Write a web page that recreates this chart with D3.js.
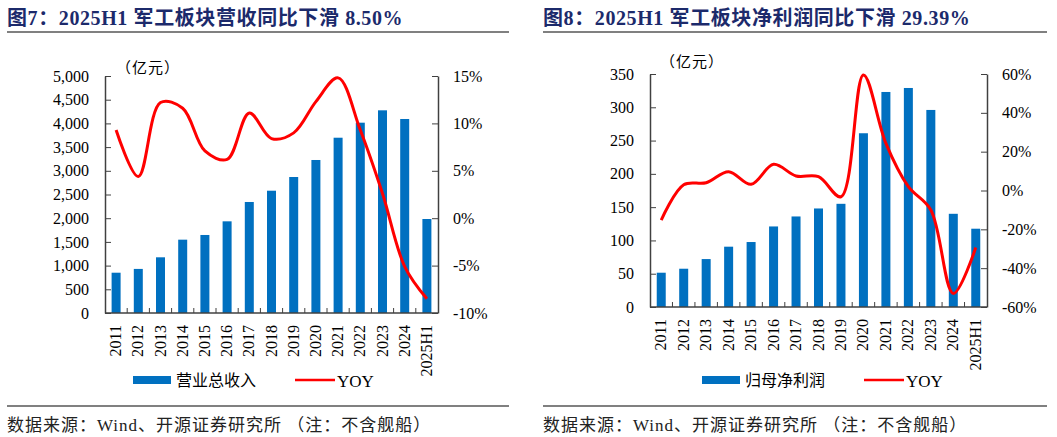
<!DOCTYPE html>
<html>
<head>
<meta charset="utf-8">
<script src="https://cdn.jsdelivr.net/npm/d3@7"></script>
<style>
  body { margin: 0; background: #fff; }
  svg { display: block; }
  text { font-family: "Liberation Serif", "Noto Sans CJK SC", serif; }
</style>
</head>
<body>
<script>
  var width = 1057;
  var height = 437;

  // data
  var years = ['2011','2012','2013','2014','2015','2016','2017','2018','2019','2020','2021','2022','2023','2024','2025H1'];
  var revenue = [850, 930, 1175, 1547, 1646, 1934, 2342, 2580, 2869, 3228, 3698, 4015, 4276, 4093, 1983];
  var revenueYoy = [9.3, 4.4, 12.2, 11.6, 7.1, 6.2, 11.1, 8.4, 9.0, 12.3, 14.8, 9.3, 2.6, -5.1, -8.5];
  var profit = [51.5, 57.5, 72, 90.6, 97.6, 121, 136, 148, 155, 261, 323, 329, 296, 140, 117.6];
  var profitYoy = [-15.2, 3.0, 4.0, 9.7, 3.2, 13.5, 7.5, 7.1, -3.2, 59.5, 24.3, 2.0, -10, -53, -29.39];
  var leftTicks = [0, 500, 1000, 1500, 2000, 2500, 3000, 3500, 4000, 4500, 5000];
  var leftPct = [-10, -5, 0, 5, 10, 15];
  var rightTicks = [0, 50, 100, 150, 200, 250, 300, 350];
  var rightPct = [-60, -40, -20, 0, 20, 40, 60];

  var svg = d3.select('body').append('svg')
    .attr('width', width)
    .attr('height', height);

  var navy = '#1c2a6b';
  var blue = '#0070c0';
  var red = '#ff0000';
  var axisColor = '#404040';

  function drawPanel(opt) {
    var g = svg.append('g');

    // title + rule
    g.append('text')
      .attr('x', opt.x0).attr('y', 25)
      .attr('fill', navy)
      .attr('font-size', 20)
      .attr('font-weight', 'bold')
      .attr('letter-spacing', 0.6)
      .text(opt.title);
    g.append('line')
      .attr('x1', opt.x0).attr('x2', opt.x1)
      .attr('y1', 32).attr('y2', 32)
      .attr('stroke', '#808080').attr('stroke-width', 2);

    var xScale = d3.scaleBand()
      .domain(years)
      .range([opt.left, opt.right]);
    var yScale = d3.scaleLinear()
      .domain([0, d3.max(opt.ticks)])
      .range([opt.bottom, opt.top]);
    var y2Scale = d3.scaleLinear()
      .domain(d3.extent(opt.pct))
      .range([opt.bottom, opt.top]);

    // bars
    g.selectAll('rect.bar')
      .data(opt.bars)
      .enter().append('rect')
      .attr('class', 'bar')
      .attr('x', (d, i) => xScale(years[i]) + xScale.bandwidth() / 2 - 4.5)
      .attr('width', 9)
      .attr('y', d => yScale(d))
      .attr('height', d => opt.bottom - yScale(d))
      .attr('fill', blue);

    // yoy line
    var line = d3.line()
      .x((d, i) => xScale(years[i]) + xScale.bandwidth() / 2)
      .y(d => y2Scale(d))
      .curve(d3.curveCatmullRom.alpha(0.5));
    g.append('path')
      .datum(opt.yoy)
      .attr('d', line)
      .attr('fill', 'none')
      .attr('stroke', red)
      .attr('stroke-width', 3);

    // left axis
    var yAxis = d3.axisLeft(yScale)
      .tickValues(opt.ticks)
      .tickSizeInner(-6).tickSizeOuter(0)
      .tickPadding(16)
      .tickFormat(d3.format(','));
    var ya = g.append('g')
      .attr('transform', 'translate(' + opt.left + ',0)')
      .call(yAxis);

    var y2Axis = d3.axisRight(y2Scale)
      .tickValues(opt.pct)
      .tickSizeInner(-6).tickSizeOuter(0)
      .tickPadding(15)
      .tickFormat(d => d + '%');
    var y2a = g.append('g')
      .attr('transform', 'translate(' + opt.right + ',0)')
      .call(y2Axis);

    // x axis: ticks at category boundaries
    var xa = g.append('g')
      .attr('transform', 'translate(0,' + opt.bottom + ')');
    xa.append('line')
      .attr('x1', opt.left).attr('x2', opt.right)
      .attr('stroke', axisColor).attr('stroke-width', 1.5);
    xa.selectAll('line.tk')
      .data(years.slice(1))
      .enter().append('line')
      .attr('class', 'tk')
      .attr('x1', d => xScale(d)).attr('x2', d => xScale(d))
      .attr('y1', 0).attr('y2', -5)
      .attr('stroke', axisColor);
    xa.selectAll('text')
      .data(years)
      .enter().append('text')
      .attr('transform', d => 'translate(' + (xScale(d) + xScale.bandwidth() / 2 + 5) + ',12) rotate(-90)')
      .attr('text-anchor', 'end')
      .attr('font-size', 16)
      .attr('fill', '#000')
      .text(d => d);

    [ya, y2a].forEach(function(a) {
      a.select('.domain').attr('stroke', axisColor).attr('stroke-width', 1.5);
      a.selectAll('.tick line').attr('stroke', axisColor);
      a.selectAll('.tick text')
        .attr('font-size', 16)
        .attr('fill', '#000')
        .attr('font-family', '"Liberation Serif", serif');
    });

    // unit
    g.append('text')
      .attr('x', opt.unitX).attr('y', opt.unitY)
      .attr('font-size', 15)
      .attr('letter-spacing', 1)
      .attr('fill', '#000')
      .attr('font-family', '"Noto Sans CJK SC", sans-serif')
      .text('（亿元）');

    // legend
    g.append('rect')
      .attr('x', opt.legX).attr('y', 376)
      .attr('width', 38).attr('height', 8)
      .attr('fill', blue);
    g.append('text')
      .attr('x', opt.legX + 43).attr('y', 386)
      .attr('font-size', 16)
      .attr('fill', '#000')
      .attr('font-family', '"Noto Sans CJK SC", sans-serif')
      .text(opt.barName);
    g.append('line')
      .attr('x1', opt.legX + 162).attr('x2', opt.legX + 202)
      .attr('y1', 380).attr('y2', 380)
      .attr('stroke', red).attr('stroke-width', 2.5);
    g.append('text')
      .attr('x', opt.legX + 204).attr('y', 387)
      .attr('font-size', 17)
      .attr('fill', '#000')
      .text('YOY');

    // source
    g.append('line')
      .attr('x1', opt.x0).attr('x2', opt.x1)
      .attr('y1', 406).attr('y2', 406)
      .attr('stroke', '#808080').attr('stroke-width', 2);
    g.append('text')
      .attr('x', opt.x0).attr('y', 431)
      .attr('font-size', 17)
      .attr('letter-spacing', 1)
      .attr('fill', '#222')
      .text('数据来源：Wind、开源证券研究所 （注：不含舰船）');
  }

  drawPanel({
    x0: 7, x1: 509,
    title: '图7：2025H1 军工板块营收同比下滑 8.50%',
    left: 105, right: 438, top: 76, bottom: 313,
    ticks: leftTicks, pct: leftPct,
    bars: revenue, yoy: revenueYoy,
    unitX: 116, unitY: 73,
    legX: 133, barName: '营业总收入'
  });

  drawPanel({
    x0: 543, x1: 1047,
    title: '图8：2025H1 军工板块净利润同比下滑 29.39%',
    left: 650, right: 987, top: 74, bottom: 307,
    ticks: rightTicks, pct: rightPct,
    bars: profit, yoy: profitYoy,
    unitX: 660, unitY: 67,
    legX: 702, barName: '归母净利润'
  });
</script>
</body>
</html>
